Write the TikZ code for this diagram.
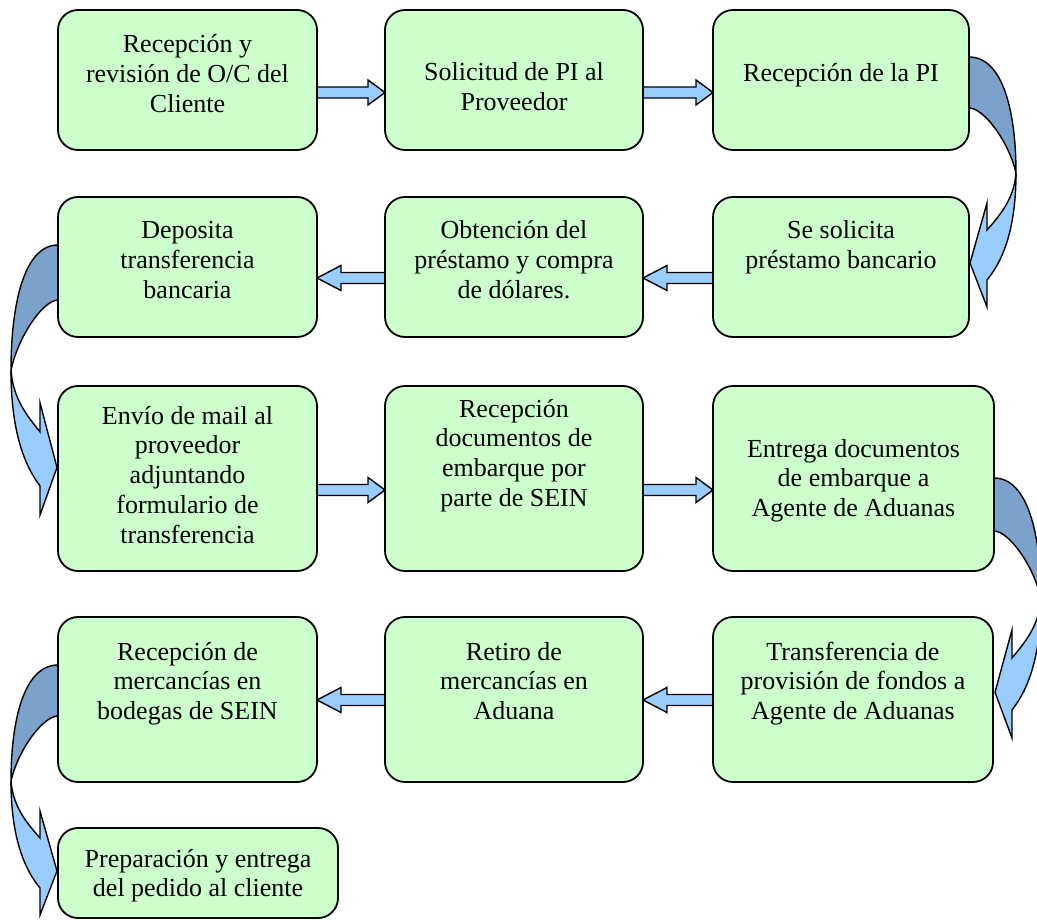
\documentclass[tikz,border=0pt]{standalone}
\usepackage{fontspec}
\setmainfont{Liberation Serif}
\usetikzlibrary{calc,backgrounds}

\definecolor{boxgreen}{HTML}{CCFFCC}
\definecolor{arrowlight}{HTML}{99CCFF}
\definecolor{arrowdark}{HTML}{7BA2CA}

\tikzset{
  stepbox/.style={draw=black, line width=1.8pt, fill=boxgreen, rounded corners=20pt,
    inner sep=0pt, outer sep=0pt, font=\fontsize{26}{29.8}\selectfont},
  flatarrow/.style={draw=black, line width=1.4pt, fill=arrowlight, line join=miter},
  bendback/.style={draw=black, line width=1.4pt, fill=arrowdark},
  bendfront/.style={draw=black, line width=1.4pt, fill=arrowlight, line join=miter},
}

% process step: name, left, top, right, bottom, first baseline below top, lines
\newcommand\stepnode[7]{%
  \node[stepbox] (#1) at ({(#2+#4)/2},{(#3+#5)/2})
    {\parbox[t][\dimexpr#5pt-#3pt\relax][t]{\dimexpr#4pt-#2pt\relax}%
      {\centering\rule{0pt}{#6pt}#7\par}};}

% straight block arrow pointing right: from, to, y
\newcommand\rightflow[3]{%
  \path (#1.east |- 0,#3) coordinate (fa) (#2.west |- 0,#3) coordinate (fb);
  \draw[flatarrow] ($(fa)+(0,-5.5)$) -- ($(fb)+(-17,-5.5)$) -- ($(fb)+(-17,-12.5)$)
    -- (fb) -- ($(fb)+(-17,12.5)$) -- ($(fb)+(-17,5.5)$) -- ($(fa)+(0,5.5)$) -- cycle;}

% straight block arrow pointing left: from, to, y
\newcommand\leftflow[3]{%
  \path (#1.west |- 0,#3) coordinate (fa) (#2.east |- 0,#3) coordinate (fb);
  \draw[flatarrow] ($(fa)+(0,-5.5)$) -- ($(fb)+(24,-5.5)$) -- ($(fb)+(24,-12.5)$)
    -- (fb) -- ($(fb)+(24,12.5)$) -- ($(fb)+(24,5.5)$) -- ($(fa)+(0,5.5)$) -- cycle;}

% curved block arrow turning down to the next row: start point, side, vertical stretch
\newcommand\bendflow[3]{%
  \begin{scope}[shift={(#1)}, xscale=#2, yscale=#3]
    \draw[bendback] (0,0) .. controls (34,0) and (47,55) .. (47,116)
      .. controls (40,85) and (15,51) .. (0,51) -- cycle;
    \draw[bendfront] (47,116) .. controls (47,165) and (37,200) .. (18,223)
      -- (18,250) -- (1,206) -- (18,146) -- (18,173)
      .. controls (34,155) and (45,140) .. (47,116) -- cycle;
  \end{scope}}

\begin{document}
\begin{tikzpicture}[x=1pt, y=-1pt]
\useasboundingbox (0,0) rectangle (1037,920);

% row 1
\stepnode{s1}{58}{10}{317}{150}{43}{Recepción y\\revisión de O/C del\\Cliente}
\stepnode{s2}{385}{10}{643}{150}{71}{Solicitud de PI al\\Proveedor}
\stepnode{s3}{713}{10}{969}{150}{72}{Recepción de la PI}
% row 2
\stepnode{s4}{713}{197}{969}{337}{42}{Se solicita\\préstamo bancario}
\stepnode{s5}{385}{197}{643}{337}{42}{Obtención del\\préstamo y compra\\de dólares.}
\stepnode{s6}{58}{197}{317}{337}{42}{Deposita\\transferencia\\bancaria}
% row 3
\stepnode{s7}{58}{386}{317}{571}{38}{Envío de mail al\\proveedor\\adjuntando\\formulario de\\transferencia}
\stepnode{s8}{385}{386}{643}{571}{31}{Recepción\\documentos de\\embarque por\\parte de SEIN}
\stepnode{s9}{713}{386}{994}{571}{71}{Entrega documentos\\de embarque a\\Agente de Aduanas}
% row 4
\stepnode{s10}{713}{617}{993}{782}{43}{Transferencia de\\provisión de fondos a\\Agente de Aduanas}
\stepnode{s11}{385}{617}{643}{782}{43}{Retiro de\\mercancías en\\Aduana}
\stepnode{s12}{58}{617}{317}{782}{43}{Recepción de\\mercancías en\\bodegas de SEIN}
% row 5
\stepnode{s13}{58}{828}{338}{918}{39}{Preparación y entrega\\del pedido al cliente}

\begin{scope}[on background layer]
  \rightflow{s1}{s2}{92.5}
  \rightflow{s2}{s3}{92.5}
  \leftflow{s4}{s5}{278}
  \leftflow{s5}{s6}{278}
  \rightflow{s7}{s8}{490}
  \rightflow{s8}{s9}{490}
  \leftflow{s10}{s11}{700}
  \leftflow{s11}{s12}{700}
  \bendflow{s3.east |- 0,57}{1}{1}
  \bendflow{s6.west |- 0,245}{-1}{1.08}
  \bendflow{s9.east |- 0,478}{1}{1.04}
  \bendflow{s12.west |- 0,665}{-1}{1}
\end{scope}
\end{tikzpicture}
\end{document}
